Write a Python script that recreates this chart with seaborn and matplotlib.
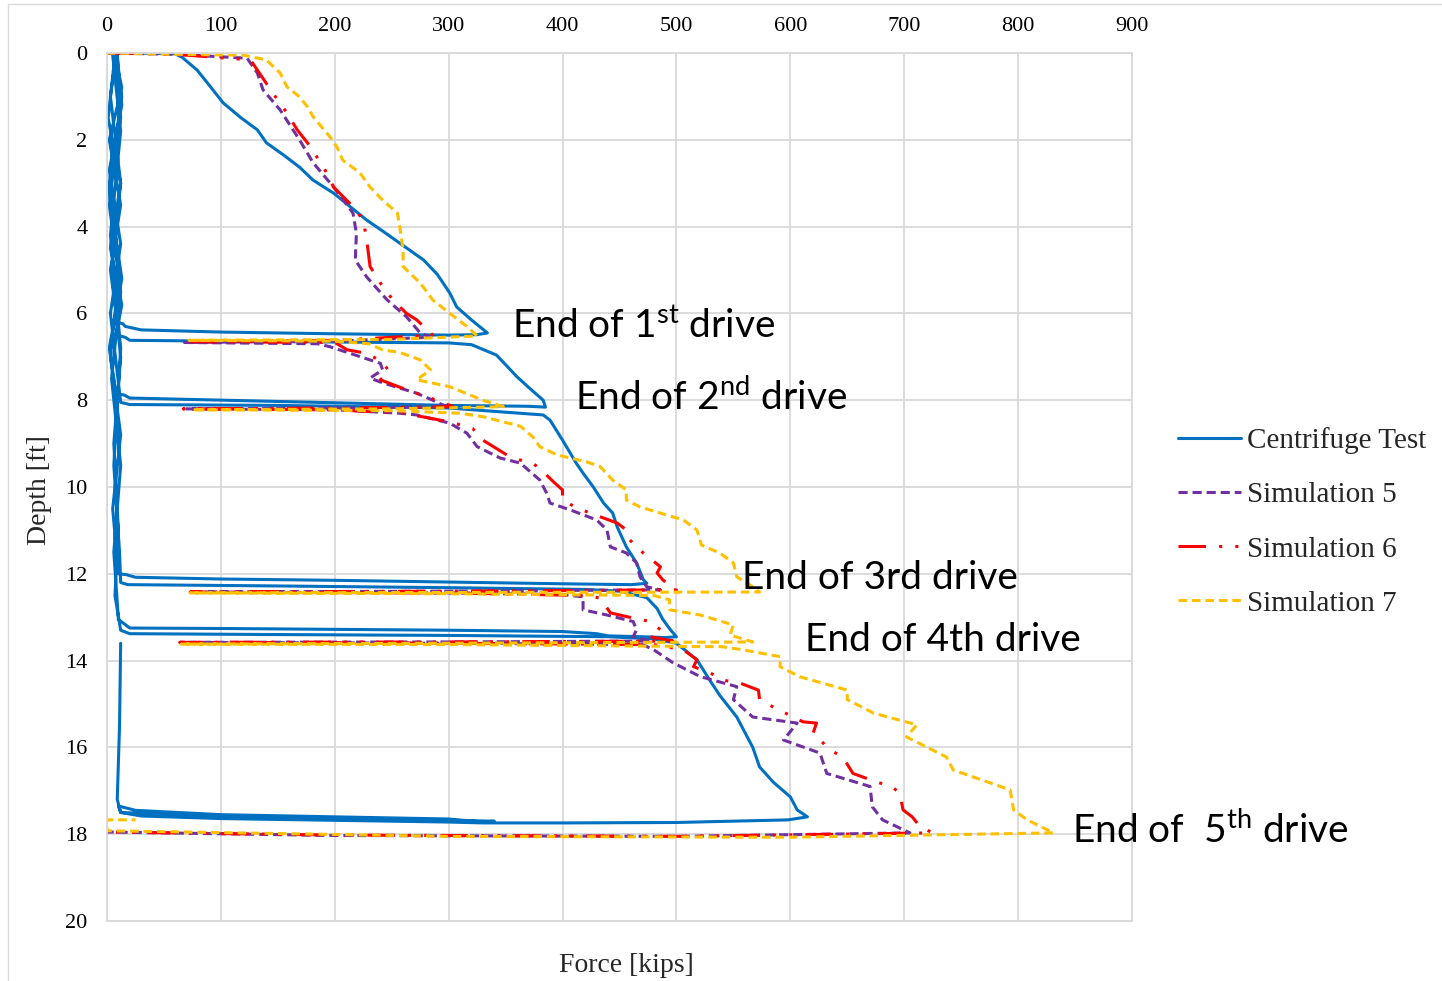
import matplotlib
matplotlib.use("Agg")
import matplotlib.pyplot as plt
from matplotlib.patches import Rectangle
import seaborn as sns
import pandas as pd

# ---- data: pile head force [kips] vs. penetration depth [ft] ----
test_force = [
    1, 30, 60, 66, 79, 90, 102, 118, 132, 140, 155, 169, 181, 199, 214, 228, 243, 257, 278, 290, 301, 307, 320, 334,
    325, 300, 200, 100, 30, 16, 14, 9,
    3, 12, 2, 13, 7, 1, 12, 3, 13, 8, 16,
    20, 100, 200, 300, 320, 342, 360, 370, 383, 385,
    370, 300, 200, 100, 20, 15, 8,
    2, 13, 2, 12, 9, 13, 2, 12, 3, 10, 12,
    20, 150, 300, 383, 389, 400, 412, 418, 427, 436, 444, 448, 456, 465, 471, 474,
    460, 400, 300, 200, 100, 25, 17, 10,
    5, 12, 3, 11, 2, 13, 5, 12, 3, 12, 6, 11, 12,
    18, 150, 300, 420, 450, 457, 474, 483, 488, 495, 500,
    490, 470, 440, 430, 400, 300, 200, 100, 20, 15, 10,
    6, 12, 4, 12, 2, 11, 8, 3, 12, 4, 12, 6, 10, 7, 12,
    20, 150, 300, 440, 480, 500, 518, 528, 538, 553, 567, 573, 585, 600, 606, 615,
    598, 500, 404, 330, 300, 250, 200, 100, 30, 12, 10,
    25, 100, 200, 300, 330, 340, 300, 200, 100, 12, 9, 11, 12,
]
test_depth = [
    0.0, 0.0, 0.02, 0.1, 0.39, 0.75, 1.15, 1.5, 1.77, 2.07, 2.35, 2.63, 2.93, 3.23, 3.55, 3.85, 4.12, 4.38, 4.77, 5.1, 5.53, 5.85, 6.15, 6.45,
    6.49, 6.5, 6.47, 6.43, 6.38, 6.3, 6.24, 6.2,
    5.0, 3.5, 2.0, 0.8, 0.05, 1.5, 3.0, 4.5, 5.8, 6.5, 6.55,
    6.62, 6.64, 6.66, 6.68, 6.72, 6.96, 7.46, 7.7, 8.0, 8.16,
    8.14, 8.12, 8.06, 8.0, 7.95, 7.88, 7.85,
    6.8, 5.2, 3.2, 1.5, 0.05, 1.2, 2.7, 4.4, 6.0, 7.6, 8.05,
    8.1, 8.12, 8.18, 8.34, 8.46, 8.92, 9.45, 9.68, 10.0, 10.37, 10.6, 10.92, 11.38, 11.75, 12.14, 12.22,
    12.25, 12.23, 12.19, 12.15, 12.12, 12.08, 12.02, 12.0,
    10.5, 8.8, 7.0, 5.0, 3.0, 1.0, 0.05, 1.8, 4.2, 6.8, 9.5, 11.5, 12.2,
    12.25, 12.28, 12.32, 12.36, 12.4, 12.44, 12.55, 12.8, 13.05, 13.3, 13.45,
    13.47, 13.45, 13.43, 13.38, 13.33, 13.3, 13.28, 13.26, 13.25, 13.15, 13.05,
    11.5, 9.5, 7.5, 5.5, 3.5, 1.5, 0.05, 1.0, 3.0, 5.0, 7.0, 9.0, 11.0, 12.5, 13.3,
    13.38, 13.4, 13.42, 13.45, 13.5, 13.6, 13.98, 14.4, 14.8, 15.3, 16.0, 16.45, 16.8, 17.14, 17.44, 17.6,
    17.67, 17.73, 17.74, 17.74, 17.72, 17.7, 17.68, 17.64, 17.58, 17.5, 17.35,
    17.45, 17.55, 17.6, 17.65, 17.72, 17.7, 17.68, 17.64, 17.58, 17.5, 17.2, 15.5, 13.6,
]

sim5_force = [
    0, 60, 123, 132, 137, 152, 169, 181, 199, 216, 219, 218, 228, 246, 263, 275, 284,
    200, 68, 185, 196, 240, 242, 231, 242, 272, 286, 298,
    200, 70, 200, 257, 272, 301, 316, 325, 345, 363, 380, 386, 389, 407, 430, 439, 442, 456, 465, 468, 474, 486,
    300, 73, 300, 400, 418, 418, 439, 462, 465, 462, 477,
    300, 64, 300, 470, 480, 497, 521, 553, 550, 567, 606, 594, 626, 632, 670, 672, 681, 705,
    500, 200, 0,
]
sim5_depth = [
    0.0, 0.03, 0.12, 0.46, 0.85, 1.31, 2.0, 2.53, 3.09, 3.69, 4.15, 4.77, 5.16, 5.69, 6.08, 6.45, 6.55,
    6.64, 6.67, 6.7, 6.77, 7.15, 7.3, 7.49, 7.6, 7.84, 8.0, 8.15,
    8.18, 8.2, 8.22, 8.3, 8.34, 8.53, 8.76, 9.07, 9.33, 9.45, 9.84, 10.14, 10.37, 10.53, 10.76, 10.99, 11.38, 11.52, 11.75, 12.07, 12.3, 12.37,
    12.4, 12.42, 12.44, 12.48, 12.53, 12.83, 12.95, 13.1, 13.29, 13.45, 13.55,
    13.57, 13.58, 13.6, 13.63, 13.75, 14.05, 14.37, 14.6, 14.9, 15.3, 15.44, 15.83, 16.13, 16.6, 16.9, 17.37, 17.67, 17.97,
    18.05, 18.03, 17.95,
]

sim6_force = [
    0, 60, 126, 134, 145, 158, 167, 176, 190, 199, 216, 225, 228, 231, 240, 251, 263, 272, 286,
    200, 70, 200, 211, 228, 242, 248, 240, 257, 284, 304,
    200, 67, 200, 260, 301, 321, 330, 351, 363, 374, 383, 392, 400, 400, 411, 424, 448, 456, 459, 470, 486, 483, 488, 500,
    300, 73, 300, 420, 433, 442, 462, 477, 486, 477, 497,
    300, 64, 300, 480, 506, 518, 515, 530, 541, 556, 572, 573, 585, 611, 623, 620, 635, 646, 655, 676, 689, 696, 699, 707, 714, 725,
    500, 200, 0,
]
sim6_depth = [
    0.0, 0.03, 0.16, 0.47, 0.9, 1.38, 1.77, 2.07, 2.62, 3.09, 3.54, 3.85, 4.3, 4.92, 5.3, 5.69, 6.0, 6.15, 6.5,
    6.62, 6.65, 6.67, 6.84, 6.92, 7.12, 7.35, 7.53, 7.7, 7.95, 8.15,
    8.18, 8.2, 8.22, 8.3, 8.5, 8.65, 8.92, 9.26, 9.38, 9.45, 9.65, 9.88, 10.07, 10.3, 10.46, 10.6, 10.83, 10.99, 11.22, 11.5, 11.84, 11.98, 12.14, 12.37,
    12.4, 12.42, 12.44, 12.5, 12.56, 12.9, 13.02, 13.1, 13.29, 13.45, 13.55,
    13.57, 13.58, 13.6, 13.63, 13.75, 13.98, 14.14, 14.29, 14.45, 14.52, 14.68, 14.9, 15.07, 15.41, 15.44, 15.67, 16.06, 16.22, 16.6, 16.8, 16.9, 17.05, 17.44, 17.6, 17.83, 17.97,
    18.05, 18.02, 17.95,
]

sim7_force = [
    0, 60, 120, 140, 152, 158, 169, 176, 181, 196, 202, 207, 222, 231, 242, 255, 257, 260, 260, 275, 286, 301, 316, 325,
    250, 72, 200, 230, 242, 257, 275, 284, 272, 301, 330, 348,
    250, 75, 250, 310, 330, 363, 374, 380, 395, 421, 433, 444, 456, 456, 468, 506, 518, 522, 538, 550, 553, 567, 573,
    300, 73, 300, 480, 494, 494, 521, 550, 547, 567,
    300, 65, 300, 540, 558, 591, 591, 608, 650, 650, 673, 711, 702, 737, 743, 793, 796, 808, 831,
    600, 300, 0, 0, 25,
]
sim7_depth = [
    0.0, 0.03, 0.05, 0.16, 0.46, 0.78, 1.01, 1.24, 1.47, 1.94, 2.17, 2.47, 2.76, 3.09, 3.39, 3.69, 4.0, 4.54, 4.92, 5.3, 5.69, 6.0, 6.3, 6.52,
    6.6, 6.62, 6.64, 6.7, 6.84, 6.9, 7.07, 7.3, 7.53, 7.69, 8.0, 8.15,
    8.2, 8.22, 8.24, 8.3, 8.38, 8.6, 8.85, 9.07, 9.26, 9.42, 9.53, 9.84, 10.07, 10.3, 10.46, 10.76, 10.99, 11.34, 11.52, 11.75, 12.07, 12.3, 12.42,
    12.43, 12.44, 12.46, 12.5, 12.6, 12.83, 12.95, 13.18, 13.41, 13.57,
    13.6, 13.62, 13.63, 13.68, 13.75, 13.91, 14.14, 14.37, 14.68, 14.9, 15.21, 15.48, 15.76, 16.22, 16.52, 16.98, 17.44, 17.67, 17.97,
    18.07, 18.05, 17.92, 17.67, 17.67,
]

series_names = ["Centrifuge Test", "Simulation 5", "Simulation 6", "Simulation 7"]
series_colors = ["#0070C0", "#7030A0", "#FF0000", "#FFC000"]

drive_labels = [
    r"End of 1$^{\mathrm{st}}$ drive",
    r"End of 2$^{\mathrm{nd}}$ drive",
    "End of 3rd drive",
    "End of 4th drive",
    r"End of  5$^{\mathrm{th}}$ drive",
]
drive_label_force = [356, 411, 558, 613, 847]
drive_label_depth = [6.31, 7.95, 12.1, 13.52, 17.93]

x_ticks = [0, 100, 200, 300, 400, 500, 600, 700, 800, 900]
y_ticks = [0, 2, 4, 6, 8, 10, 12, 14, 16, 18, 20]

# ---- styling ----
sns.set_theme(style="whitegrid")
plt.rcParams["font.family"] = ["Liberation Serif", "DejaVu Serif"]
plt.rcParams["mathtext.fontset"] = "custom"
plt.rcParams["mathtext.rm"] = "Lato"
plt.rcParams["mathtext.it"] = "Lato:italic"
plt.rcParams["mathtext.bf"] = "Lato:bold"

W, H = 1442, 981
fig = plt.figure(figsize=(W / 100, H / 100), dpi=100)
fig.patch.set_facecolor("white")
ax = fig.add_axes([107 / W, 1 - 921 / H, (1132 - 107) / W, (921 - 53) / H])
ax.set_facecolor("white")

frames = [
    pd.DataFrame({"force": test_force, "depth": test_depth}),
    pd.DataFrame({"force": sim5_force, "depth": sim5_depth}),
    pd.DataFrame({"force": sim6_force, "depth": sim6_depth}),
    pd.DataFrame({"force": sim7_force, "depth": sim7_depth}),
]
dash_patterns = [None, (3.0, 1.6), (9.0, 4.3, 1.0, 4.3, 1.0, 4.3), (2.8, 1.6)]

handles = []
for df, name, color, dashes in zip(frames, series_names, series_colors, dash_patterns):
    sns.lineplot(data=df, x="force", y="depth", sort=False, estimator=None,
                 color=color, linewidth=2.2, ax=ax, legend=False)
    line = ax.lines[-1]
    line.set_solid_joinstyle("round")
    if dashes is not None:
        line.set_dashes(dashes)
    line.set_label(name)
    handles.append(line)
if ax.get_legend() is not None:
    ax.get_legend().remove()

ax.set_xlim(0, 900)
ax.set_ylim(20, 0)
ax.set_xticks(x_ticks)
ax.set_yticks(y_ticks)
ax.xaxis.tick_top()
ax.tick_params(axis="x", which="both", length=0, pad=12.5, labelsize=16, colors="black")
ax.tick_params(axis="y", which="both", length=0, pad=14, labelsize=16, colors="black")
ax.grid(True, color="#D9D9D9", linewidth=1.3)
for sp in ax.spines.values():
    sp.set_color("#D9D9D9")
    sp.set_linewidth(1.3)
ax.set_xlabel("")
ax.set_ylabel("")

fig.text(626 / W, 1 - 965 / H, "Force [kips]", ha="center", va="center", fontsize=20)
fig.text(40 / W, 1 - 490 / H, "Depth [ft]", ha="center", va="center", rotation=90, fontsize=20)

for txt, fx, dy in zip(drive_labels, drive_label_force, drive_label_depth):
    ax.text(fx, dy, txt, ha="left", va="center", fontsize=28, family="Lato",
            color="black", clip_on=False)

fig.legend(handles=handles, labels=series_names, loc="center left",
           bbox_to_anchor=(1178 / W, 1 - 522 / H), frameon=False, fontsize=21,
           handlelength=2.15, handletextpad=0.2, labelspacing=0.95,
           borderpad=0, borderaxespad=0)

fig.patches.append(Rectangle((8 / W, -0.01), 1.0, 1 - 4 / H + 0.01, transform=fig.transFigure,
                             fill=False, edgecolor="#D9D9D9", linewidth=1.0))

fig.savefig("out.png", dpi=100, facecolor="white")
